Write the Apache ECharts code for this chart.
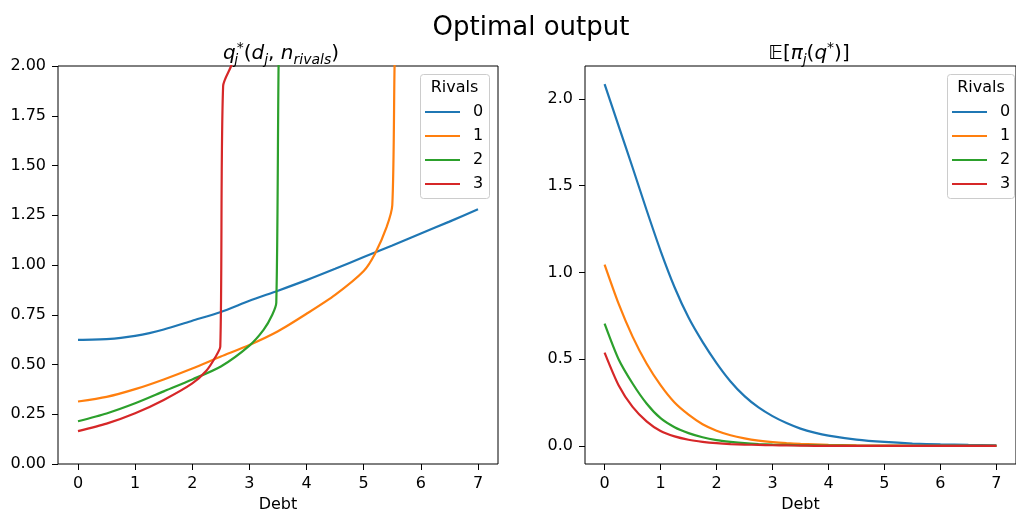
<!DOCTYPE html>
<html>
<head>
<meta charset="utf-8">
<title>Optimal output</title>
<script src="https://cdn.jsdelivr.net/npm/echarts@6/dist/echarts.min.js"></script>
<style>
  html, body { margin: 0; padding: 0; background: #fff; }
  #chart { width: 1016px; height: 518px; }
</style>
</head>
<body>
<div id="chart"></div>
<script>
const rivals = ['0', '1', '2', '3']
const colors = ['#1f77b4', '#ff7f0e', '#2ca02c', '#d62728']
const debtTicks = [0, 1, 2, 3, 4, 5, 6, 7]

// left panel: optimal quantity q*, one x list per rival count (jumps sit at different debt levels)
const debtQ0 = [0, 0.25, 0.5, 0.75, 1, 1.25, 1.5, 2, 2.5, 3, 3.5, 4, 4.5, 5, 5.5, 6, 6.5, 7]
const q0 = [0.624, 0.625, 0.628, 0.634, 0.644, 0.658, 0.676, 0.72, 0.764, 0.82, 0.871, 0.924, 0.981, 1.04, 1.098, 1.158, 1.218, 1.28]
const debtQ1 = [0, 0.5, 1, 1.5, 2, 2.5, 3, 3.5, 4, 4.5, 5, 5.2, 5.4, 5.5, 5.54, 5.56]
const q1 = [0.314, 0.337, 0.376, 0.425, 0.48, 0.54, 0.598, 0.667, 0.755, 0.85, 0.97, 1.058, 1.19, 1.3, 2.0, 2.2]
const debtQ2 = [0, 0.5, 1, 1.5, 2, 2.5, 3, 3.25, 3.4, 3.47, 3.51, 3.53]
const q2 = [0.215, 0.254, 0.305, 0.365, 0.425, 0.49, 0.595, 0.675, 0.75, 0.81, 2.0, 2.2]
const debtQ3 = [0, 0.5, 1, 1.5, 2, 2.25, 2.4, 2.49, 2.54, 2.68, 2.8]
const q3 = [0.165, 0.203, 0.255, 0.322, 0.405, 0.47, 0.535, 0.59, 1.9, 2.0, 2.1]

// right panel: expected profit
const debtPi = [0, 0.25, 0.5, 0.75, 1, 1.25, 1.5, 1.75, 2, 2.25, 2.5, 2.75, 3, 3.25, 3.5, 3.75, 4, 4.5, 5, 5.5, 6, 6.5, 7]
const pi0 = [2.085, 1.845, 1.605, 1.36, 1.125, 0.915, 0.74, 0.6, 0.478, 0.372, 0.287, 0.222, 0.172, 0.132, 0.1, 0.077, 0.06, 0.037, 0.023, 0.014, 0.009, 0.006, 0.004]
const pi1 = [1.045, 0.82, 0.63, 0.475, 0.35, 0.25, 0.18, 0.125, 0.088, 0.062, 0.044, 0.031, 0.022, 0.016, 0.012, 0.009, 0.006, 0.003, 0.002, 0.001, 0.001, 0, 0]
const pi2 = [0.705, 0.5, 0.36, 0.245, 0.16, 0.108, 0.074, 0.05, 0.034, 0.024, 0.016, 0.011, 0.008, 0.006, 0.004, 0.003, 0.002, 0.001, 0.001, 0, 0, 0, 0]
const pi3 = [0.538, 0.35, 0.225, 0.142, 0.086, 0.055, 0.036, 0.024, 0.016, 0.011, 0.008, 0.006, 0.004, 0.003, 0.002, 0.001, 0.001, 0, 0, 0, 0, 0, 0]
const piTicks = [0, 0.5, 1, 1.5, 2]

const FONT = 'DejaVu Sans'
const zip = (xs, ys) => xs.map((x, i) => [x, ys[i]])

const qSeries = [zip(debtQ0, q0), zip(debtQ1, q1), zip(debtQ2, q2), zip(debtQ3, q3)]
const piSeries = [pi0, pi1, pi2, pi3].map((ys) => zip(debtPi, ys))

const base = { fontFamily: FONT, fontWeight: 'normal', color: '#000' }
const mathRich = {
  n: { ...base, fontSize: 20, lineHeight: 26 },
  i: { ...base, fontSize: 20, fontStyle: 'italic', lineHeight: 26 },
  bb: { ...base, fontSize: 20, lineHeight: 26 },
  sub: { ...base, fontSize: 14, fontStyle: 'italic', lineHeight: 14, verticalAlign: 'bottom' },
  subz: { ...base, fontSize: 14, fontStyle: 'italic', lineHeight: 14, verticalAlign: 'bottom', width: 1 },
  sup: { ...base, fontSize: 14, lineHeight: 18, verticalAlign: 'top' },
}

function xAxisOpt(gridIndex) {
  return {
    type: 'value',
    gridIndex,
    min: -0.35,
    max: 7.35,
    name: 'Debt',
    nameLocation: 'middle',
    nameGap: 33,
    nameTextStyle: { fontFamily: FONT, fontSize: 16, color: '#000' },
    axisLine: { show: false, onZero: false },
    axisTick: { show: true, length: 6, customValues: debtTicks, lineStyle: { color: '#000', width: 1 } },
    axisLabel: { customValues: debtTicks, margin: 12, fontFamily: FONT, fontSize: 16, color: '#000' },
    splitLine: { show: false },
  }
}

function legendOpt(left) {
  return {
    orient: 'vertical',
    left,
    top: 102,
    padding: 0,
    data: rivals,
    icon: 'rect',
    itemWidth: 35,
    itemHeight: 2,
    itemGap: 4,
    textStyle: { fontFamily: FONT, fontSize: 16, color: '#000', lineHeight: 20, padding: [0, 0, 0, 8] },
  }
}

function lineSeries(data, idx, axisIdx) {
  return {
    name: rivals[idx],
    type: 'line',
    xAxisIndex: axisIdx,
    yAxisIndex: axisIdx,
    data,
    showSymbol: false,
    smooth: 0.25,
    clip: true,
    lineStyle: { color: colors[idx], width: 2.2 },
    itemStyle: { color: colors[idx] },
    animation: false,
  }
}

const chart = echarts.init(document.getElementById('chart'))
chart.setOption({
  backgroundColor: '#fff',
  animation: false,
  title: [
    { text: 'Optimal output', left: 526, top: 10, textAlign: 'center', textStyle: { fontFamily: FONT, fontSize: 26, fontWeight: 'normal', color: '#000' } },
    {
      text: '{i|q}{subz|j}{sup|*}{n|(}{i|d}{sub|j}{n|, }{i|n}{sub|rivals}{n|)}',
      left: 276, top: 36, textAlign: 'center',
      textStyle: { fontWeight: 'normal', rich: mathRich },
    },
    {
      text: '{bb|𝔼}{n|[}{i|π}{sub|j}{n|(}{i|q}{sup|*}{n|)]}',
      left: 804, top: 36, textAlign: 'center',
      textStyle: { fontWeight: 'normal', rich: mathRich },
    },
  ],
  grid: [
    { left: 58, top: 66, width: 440, height: 402, show: true, borderColor: '#000', borderWidth: 1 },
    { left: 585, top: 66, width: 440, height: 402, show: true, borderColor: '#000', borderWidth: 1 },
  ],
  xAxis: [xAxisOpt(0), xAxisOpt(1)],
  yAxis: [
    {
      type: 'value', gridIndex: 0, min: 0, max: 2, interval: 0.25,
      axisLine: { show: false, onZero: false },
      axisTick: { show: true, length: 6, lineStyle: { color: '#000', width: 1 } },
      axisLabel: { margin: 12, fontFamily: FONT, fontSize: 16, color: '#000', formatter: (v) => v.toFixed(2) },
      splitLine: { show: false },
    },
    {
      type: 'value', gridIndex: 1, min: -0.104, max: 2.19,
      axisLine: { show: false, onZero: false },
      axisTick: { show: true, length: 6, customValues: piTicks, lineStyle: { color: '#000', width: 1 } },
      axisLabel: { customValues: piTicks, margin: 12, fontFamily: FONT, fontSize: 16, color: '#000', formatter: (v) => v.toFixed(1) },
      splitLine: { show: false },
    },
  ],
  legend: [legendOpt(425), legendOpt(952)],
  graphic: [
    { type: 'rect', z: 0, shape: { x: 420.5, y: 74.5, width: 69, height: 124, r: 3 }, style: { fill: 'rgba(255,255,255,0.8)', stroke: '#cccccc', lineWidth: 1 } },
    { type: 'rect', z: 0, shape: { x: 947.5, y: 74.5, width: 67, height: 124, r: 3 }, style: { fill: 'rgba(255,255,255,0.8)', stroke: '#cccccc', lineWidth: 1 } },
    { type: 'text', z: 1, x: 454.5, y: 88, style: { text: 'Rivals', font: '16px "DejaVu Sans"', fill: '#000', align: 'center', verticalAlign: 'middle' } },
    { type: 'text', z: 1, x: 981, y: 88, style: { text: 'Rivals', font: '16px "DejaVu Sans"', fill: '#000', align: 'center', verticalAlign: 'middle' } },
  ],
  series: [
    ...qSeries.map((d, i) => lineSeries(d, i, 0)),
    ...piSeries.map((d, i) => lineSeries(d, i, 1)),
  ],
})
</script>
</body>
</html>
